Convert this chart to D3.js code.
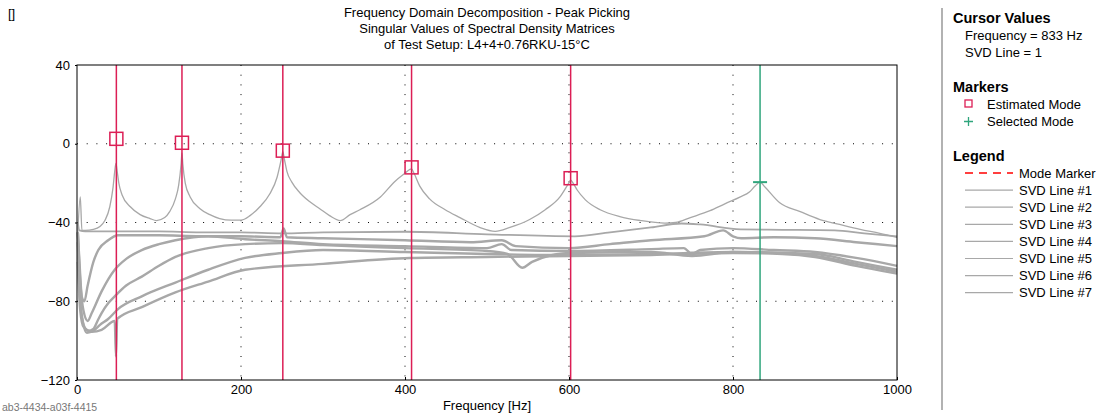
<!DOCTYPE html>
<html lang="en">
<head>
    <meta charset="UTF-8">
    <title>Frequency Domain Decomposition - Peak Picking</title>
    <script src="https://d3js.org/d3.v7.min.js"></script>
    <style>
        body { margin: 0; background: #fff; }
        text { font-family: "Liberation Sans", Arial, sans-serif; }
    </style>
</head>
<body>
    <div id="chart"></div>

    <script>
        // Title and labels
        const titleLines = [
            "Frequency Domain Decomposition - Peak Picking",
            "Singular Values of Spectral Density Matrices",
            "of Test Setup: L4+4+0.76RKU-15°C"
        ];
        const xTicks = [0, 200, 400, 600, 800, 1000];
        const yTicks = [40, 0, -40, -80, -120];

        // Mode markers: frequency [Hz] and marker level [dB]
        const estimatedFreq = [48, 128, 251, 408, 602];
        const estimatedLevel = [2.5, 0.5, -3.5, -12, -17.5];
        const selectedFreq = [833];
        const selectedLevel = [-19.5];

        // SVD lines, [frequency, dB]
        const svd1 = [[1,-45],[4,-27],[6,-44],[10,-44],[20,-43.5],[28,-42],[34,-39],[40,-32],[44,-22],[46,-14],[47.5,-10],
            [49,-14],[51,-20],[55,-26],[65,-32],[77,-36],[89,-38],[97,-39],[107,-37.5],[113,-34.5],[120,-28],[124,-21],
            [127,-10],[128,-4.6],[129,-10],[132,-20],[138,-27],[150,-33],[162,-36],[174,-38],[188,-38.8],[200,-38.8],
            [211,-36.5],[223,-32],[235,-25.5],[244,-17],[249,-8],[251,-4],[253,-8],[256,-14],[262,-19.5],[272,-25],
            [284,-29.5],[296,-33],[308,-36.5],[321,-39],[333,-36],[345,-33.5],[370,-27],[388,-19],[400,-15],[406,-13],
            [408,-12.8],[411,-15],[418,-21.5],[430,-28],[449,-33.5],[467,-37.5],[491,-42.5],[510,-44.5],[528,-42.5],
            [552,-38.5],[571,-33.5],[589,-27],[599,-20.5],[602,-18.5],[605,-20],[610,-23.5],[620,-28.5],[638,-33.5],
            [662,-37],[687,-39],[717,-40.3],[730,-40],[748,-37.5],[772,-34],[790,-30.5],[809,-27],[820,-24.5],
            [827,-21.5],[833,-19.5],[839,-22],[857,-30],[882,-34.5],[906,-38.5],[930,-41],[955,-43.5],[979,-45.5],[1000,-47.5]];
        const svd2 = [[1,-40],[3,-44],[10,-44.5],[50,-44.5],[100,-44.5],[150,-45],[200,-45],[250,-45.5],[300,-45],
            [400,-44.7],[500,-46],[607,-47],[650,-45],[700,-42.5],[737,-40.5],[760,-41],[809,-43.5],[860,-43.7],
            [924,-44],[960,-45.5],[1000,-47]];
        const svd3 = [[1,-45],[3,-60],[6,-78],[9,-80],[13,-72],[20,-60],[26,-54],[38,-49],[50,-46.5],[100,-46.5],
            [150,-47],[200,-47],[248,-47.5],[252,-43],[256,-47.5],[300,-48],[400,-49],[480,-50],[518,-49],[535,-52],
            [600,-53],[650,-51],[700,-49],[765,-47],[788,-44],[800,-47],[810,-48],[850,-47.5],[900,-48],[950,-50],[1000,-52]];
        const svd4 = [[1,-45],[4,-70],[8,-85],[13,-90],[18,-86],[30,-75],[46,-64],[60,-58.5],[79,-54],[100,-51],
            [120,-49],[160,-47],[205,-48.5],[250,-49.5],[300,-51],[400,-52],[500,-53],[518,-51],[530,-54],[600,-54.5],
            [700,-53.5],[740,-53],[750,-56],[760,-54],[800,-53],[850,-54],[900,-55],[950,-58],[1000,-62]];
        const svd5 = [[1,-50],[4,-80],[8,-92],[14,-95],[20,-94],[25,-90],[30,-86],[38,-81],[46,-77.5],[60,-72],
            [79,-67.5],[100,-62],[120,-57.5],[160,-53],[205,-51],[250,-50.5],[300,-51.5],[400,-53],[500,-54.5],
            [525,-56],[543,-63],[555,-60],[600,-55.5],[700,-55],[750,-57],[800,-55],[900,-56],[950,-60],[1000,-64]];
        const svd6 = [[1,-45],[3,-75],[7,-90],[12,-96],[20,-95],[28,-92],[38,-89],[50,-84],[79,-77.5],[120,-70.5],
            [160,-64],[205,-58],[250,-55.5],[300,-54],[400,-55],[500,-56],[600,-56.5],[700,-56],[800,-55],
            [850,-55.5],[900,-57],[950,-61],[1000,-65]];
        const svd7 = [[1,-60],[4,-85],[8,-93],[18,-95.5],[30,-94.5],[46,-90],[47.5,-108],[49,-89],[79,-83],
            [120,-75.5],[160,-70],[205,-64],[300,-61],[406,-58],[500,-57.5],[600,-57],[700,-56.5],[800,-55.5],
            [860,-56],[900,-57.5],[950,-62],[1000,-66]];
        const svdLines = [svd1, svd2, svd3, svd4, svd5, svd6, svd7];

        const W = 1103, H = 414;
        const plot = { left: 77, right: 897, top: 65, bottom: 380 };
        const red = "#dc1e55";
        const green = "#2fa57c";
        const gray = "#a8a8a8";
        const fs = "13px";

        const svg = d3.select("#chart")
            .append("svg")
            .attr("width", W)
            .attr("height", H);

        const x = d3.scaleLinear().domain([0, 1000]).range([plot.left, plot.right]);
        const y = d3.scaleLinear().domain([-120, 40]).range([plot.bottom, plot.top]);

        // Title
        svg.append("text")
            .attr("x", 8).attr("y", 18)
            .style("font-size", fs)
            .text("[]");

        svg.selectAll(".title")
            .data(titleLines)
            .enter().append("text")
            .attr("class", "title")
            .attr("x", 487)
            .attr("y", (d, i) => 17 + i * 16)
            .attr("text-anchor", "middle")
            .style("font-size", fs)
            .text(d => d);

        // Dotted grid
        const grid = svg.append("g");
        grid.selectAll(".gx")
            .data(xTicks.slice(1, -1))
            .enter().append("line")
            .attr("x1", d => x(d)).attr("x2", d => x(d))
            .attr("y1", plot.top).attr("y2", plot.bottom)
            .attr("stroke", "#000")
            .attr("stroke-dasharray", "1,8.7");
        grid.selectAll(".gy")
            .data(yTicks.slice(1, -1))
            .enter().append("line")
            .attr("x1", plot.left).attr("x2", plot.right)
            .attr("y1", d => y(d)).attr("y2", d => y(d))
            .attr("stroke", "#000")
            .attr("stroke-dasharray", "1,8.7");

        // SVD lines
        const line = d3.line()
            .curve(d3.curveMonotoneX)
            .x(d => x(d[0]))
            .y(d => y(d[1]));

        svg.append("g").selectAll("path")
            .data(svdLines.slice().reverse())
            .enter().append("path")
            .attr("d", line)
            .attr("fill", "none")
            .attr("stroke", gray)
            .attr("stroke-width", (d, i) => i === 6 ? 1.3 : (i === 5 ? 1.8 : 2.4))
            .attr("stroke-linejoin", "round");

        // Mode marker lines
        svg.selectAll(".mode")
            .data(estimatedFreq)
            .enter().append("line")
            .attr("x1", d => x(d)).attr("x2", d => x(d))
            .attr("y1", plot.top).attr("y2", plot.bottom)
            .attr("stroke", red)
            .attr("stroke-width", 1.5);

        svg.selectAll(".sel")
            .data(selectedFreq)
            .enter().append("line")
            .attr("x1", d => x(d)).attr("x2", d => x(d))
            .attr("y1", plot.top).attr("y2", plot.bottom)
            .attr("stroke", green)
            .attr("stroke-width", 1.5);

        // Estimated mode squares
        svg.selectAll(".est")
            .data(estimatedFreq)
            .enter().append("rect")
            .attr("x", d => x(d) - 6.5)
            .attr("y", (d, i) => y(estimatedLevel[i]) - 6.5)
            .attr("width", 13).attr("height", 13)
            .attr("fill", "none")
            .attr("stroke", red)
            .attr("stroke-width", 1.5);

        // Selected mode cross
        svg.selectAll(".selmark")
            .data(selectedFreq)
            .enter().append("line")
            .attr("x1", d => x(d) - 7).attr("x2", d => x(d) + 7)
            .attr("y1", (d, i) => y(selectedLevel[i])).attr("y2", (d, i) => y(selectedLevel[i]))
            .attr("stroke", green)
            .attr("stroke-width", 2);

        // Plot frame
        svg.append("rect")
            .attr("x", plot.left).attr("y", plot.top)
            .attr("width", plot.right - plot.left)
            .attr("height", plot.bottom - plot.top)
            .attr("fill", "none")
            .attr("stroke", "#000");

        // Axes
        const yAxis = svg.append("g")
            .attr("transform", `translate(${plot.left},0)`)
            .call(d3.axisLeft(y).tickValues(yTicks).tickSize(2).tickPadding(5));
        const xAxis = svg.append("g")
            .attr("transform", `translate(0,${plot.bottom})`)
            .call(d3.axisBottom(x).tickValues(xTicks).tickFormat(d3.format("d"))
                .tickSizeInner(-3).tickSizeOuter(0).tickPadding(5));
        [yAxis, xAxis].forEach(a => {
            a.select(".domain").remove();
            a.selectAll("text")
                .style("font-family", "'Liberation Sans', Arial, sans-serif")
                .style("font-size", fs)
                .attr("fill", "#000");
        });

        svg.append("text")
            .attr("x", 487).attr("y", 410)
            .attr("text-anchor", "middle")
            .style("font-size", fs)
            .text("Frequency [Hz]");

        svg.append("text")
            .attr("x", 2).attr("y", 411)
            .attr("fill", "#777")
            .style("font-size", "10.5px")
            .text("ab3-4434-a03f-4415");

        // Side panel
        svg.append("line")
            .attr("x1", 942).attr("x2", 942)
            .attr("y1", 8).attr("y2", 410)
            .attr("stroke", "#999")
            .attr("stroke-width", 1.5);

        const heads = [["Cursor Values", 23], ["Markers", 92], ["Legend", 161]];
        svg.selectAll(".head")
            .data(heads)
            .enter().append("text")
            .attr("x", 953).attr("y", d => d[1])
            .style("font-size", "14.5px")
            .style("font-weight", "bold")
            .text(d => d[0]);

        const cursorText = ["Frequency = 833 Hz", "SVD Line = 1"];
        svg.selectAll(".cur")
            .data(cursorText)
            .enter().append("text")
            .attr("x", 965).attr("y", (d, i) => 40 + i * 17)
            .style("font-size", fs)
            .text(d => d);

        // Markers legend
        svg.append("rect")
            .attr("x", 965).attr("y", 100)
            .attr("width", 7).attr("height", 7)
            .attr("fill", "none")
            .attr("stroke", red)
            .attr("stroke-width", 1.3);
        svg.append("path")
            .attr("d", "M964,121.5H973M968.5,117V126")
            .attr("stroke", green)
            .attr("stroke-width", 1.3);
        svg.append("text").attr("x", 987).attr("y", 109).style("font-size", fs).text("Estimated Mode");
        svg.append("text").attr("x", 987).attr("y", 126).style("font-size", fs).text("Selected Mode");

        // Line legend
        const legendItems = ["Mode Marker"].concat(svdLines.map((d, i) => "SVD Line #" + (i + 1)));
        const leg = svg.selectAll(".leg")
            .data(legendItems)
            .enter().append("g")
            .attr("transform", (d, i) => `translate(0,${173 + i * 17.1})`);
        leg.append("line")
            .attr("x1", 965).attr("x2", 1013)
            .attr("stroke", (d, i) => i === 0 ? "#ff0000" : gray)
            .attr("stroke-width", (d, i) => i === 0 ? 1.5 : 1.2)
            .attr("stroke-dasharray", (d, i) => i === 0 ? "8,6" : null);
        leg.append("text")
            .attr("x", 1019).attr("y", 4.5)
            .style("font-size", fs)
            .text(d => d);
    </script>
</body>
</html>
